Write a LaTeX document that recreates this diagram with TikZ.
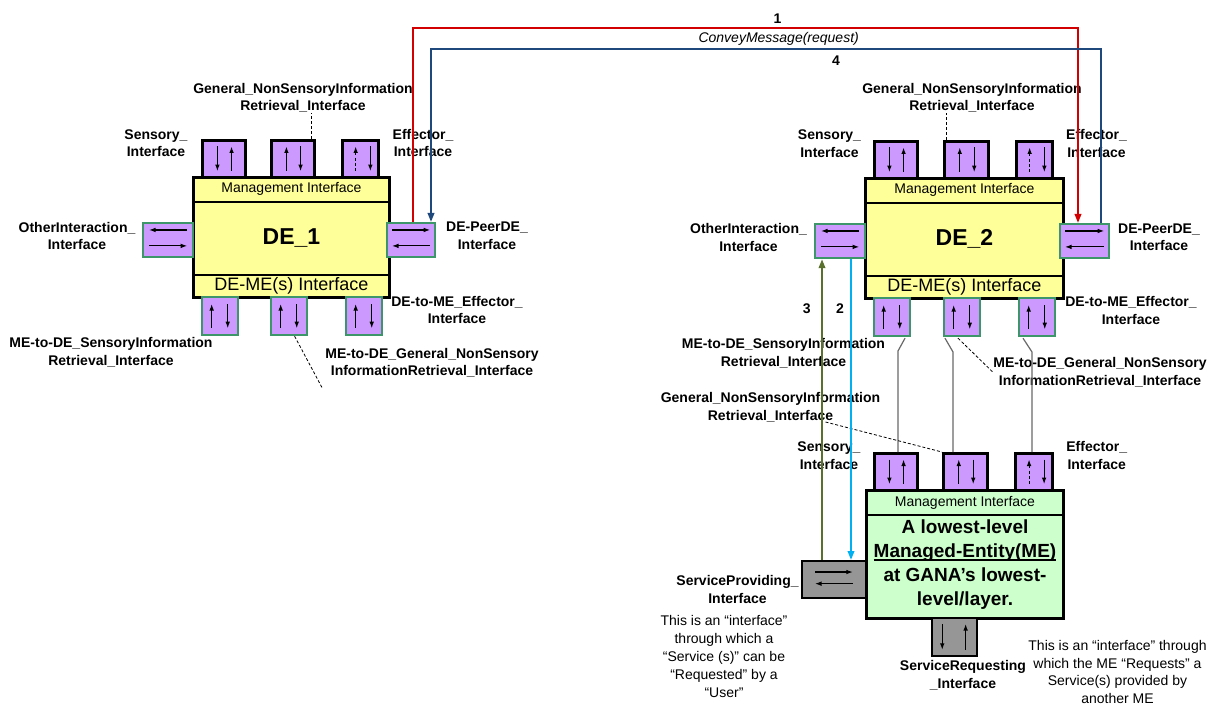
\documentclass[tikz,border=0pt]{standalone}
\usepackage{fontspec}
\setmainfont{Liberation Sans}
\usetikzlibrary{arrows.meta,calc}
\definecolor{purp}{RGB}{204,153,255}
\definecolor{yel}{RGB}{255,255,153}
\definecolor{lgreen}{RGB}{204,255,204}
\definecolor{grayc}{RGB}{150,150,150}
\definecolor{grn}{RGB}{60,150,105}
\definecolor{redc}{RGB}{210,0,0}
\definecolor{bluec}{RGB}{31,73,125}
\definecolor{olivec}{RGB}{90,112,45}
\definecolor{cyanc}{RGB}{0,176,240}
\definecolor{glinec}{RGB}{105,105,105}
\newcommand\lblfont{\fontsize{14bp}{17.5bp}\selectfont\bfseries}
\newcommand\notefont{\fontsize{14bp}{17.8bp}\selectfont}
\newcommand\mgmtfont{\fontsize{14bp}{17bp}\selectfont}
\newcommand\demefont{\fontsize{18bp}{21bp}\selectfont}
\newcommand\namefont{\fontsize{23bp}{26bp}\selectfont\bfseries}
\newcommand\mefont{\fontsize{19bp}{24bp}\selectfont\bfseries}
\newcommand\ulme[1]{\setbox0\hbox{#1}\rlap{\rule[-2.6bp]{\wd0}{1.4bp}}\box0}
\newcommand\vArr[4]{\draw[#3] ($(#1.north west)!#2!(#1.north east)+(0,#4)$) -- ($(#1.south west)!#2!(#1.south east)+(0,-#4)$);}
\newcommand\hArr[4]{\draw[#3] ($(#1.north west)!#2!(#1.south west)+(#4,0)$) -- ($(#1.north east)!#2!(#1.south east)+(-#4,0)$);}
\tikzset{
  topbox/.style={draw=black, line width=2.6bp, fill=purp, inner sep=0pt, anchor=north west},
  gbox/.style={draw=grn, line width=2.2bp, fill=purp, inner sep=0pt, anchor=north west},
  graybox/.style={draw=black, line width=1.8bp, fill=grayc, inner sep=0pt, anchor=north west},
  mainbox/.style={draw=black, line width=3bp, inner sep=0pt, anchor=north west},
  sepline/.style={line width=1.1bp, black},
  lbl/.style={font=\lblfont, align=center, inner sep=0pt},
  note/.style={font=\notefont, align=center, inner sep=0pt},
  tipend/.style={line width=1.1bp, -{Latex[length=6.5bp,width=4.6bp]}},
  tipstart/.style={line width=1.1bp, {Latex[length=6.5bp,width=4.6bp]}-},
  dashup/.style={tipstart, dash pattern=on 3bp off 2.2bp},
  bigtip/.style={-{Triangle[length=9bp,width=6.5bp]}},
  ptr/.style={black, line width=0.8bp, dash pattern=on 3bp off 2bp},
  gline/.style={glinec, line width=1.2bp},
}
\begin{document}
\begin{tikzpicture}[x=1bp,y=-1bp]
\useasboundingbox (0,0) rectangle (1208,705);
\fill[white] (0,0) rectangle (1208,705);

\coordinate (k1) at (898,351);
\coordinate (k2) at (953,352);
\coordinate (k3) at (1032,352);

% ================= DE_1 =================
\node[topbox, minimum width=43bp, minimum height=37bp] (d1top1) at (201,139) {};
\node[topbox, minimum width=43bp, minimum height=37bp] (d1top2) at (270,139) {};
\node[topbox, minimum width=36bp, minimum height=37bp] (d1top3) at (341,139) {};
\node[mainbox, fill=yel, minimum width=196bp, minimum height=120bp, font=\namefont] (de1) at (192,176) {DE\_1};
\draw[sepline] ($(de1.north west)+(0,26)$) -- ($(de1.north east)+(0,26)$);
\draw[sepline] ($(de1.south west)+(0,-24)$) -- ($(de1.south east)+(0,-24)$);
\node[font=\mgmtfont, inner sep=0pt] (d1mgmt) at ($(de1.north)+(0,13)$) {Management Interface};
\node[font=\demefont, inner sep=0pt] (d1deme) at ($(de1.south)+(0,-13)$) {DE-ME(s) Interface};
\node[gbox, minimum width=50bp, minimum height=34bp] (d1left) at (142,222) {};
\node[gbox, minimum width=48bp, minimum height=34bp] (d1right) at (386,222) {};
\node[gbox, minimum width=36bp, minimum height=38bp] (d1bot1) at (201,296) {};
\node[gbox, minimum width=36bp, minimum height=38bp] (d1bot2) at (270,296) {};
\node[gbox, minimum width=36bp, minimum height=38bp] (d1bot3) at (345,296) {};

\vArr{d1top1}{0.36}{tipend}{7.5}   \vArr{d1top1}{0.67}{tipstart}{7.5}
\vArr{d1top2}{0.36}{tipstart}{7.5} \vArr{d1top2}{0.67}{tipend}{7.5}
\vArr{d1top3}{0.38}{dashup}{7.5}   \vArr{d1top3}{0.76}{tipend}{7.5}
\hArr{d1left}{0.22}{tipstart}{7}   \hArr{d1left}{0.66}{tipend}{7}
\hArr{d1right}{0.22}{tipend}{6}    \hArr{d1right}{0.66}{tipstart}{6}
\vArr{d1bot1}{0.28}{tipstart}{8}   \vArr{d1bot1}{0.70}{tipend}{8}
\vArr{d1bot2}{0.28}{tipstart}{8}   \vArr{d1bot2}{0.70}{tipend}{8}
\vArr{d1bot3}{0.28}{tipstart}{8}   \vArr{d1bot3}{0.70}{tipend}{8}

\node[lbl] (d1gnsi) at (303,98) {General\_NonSensoryInformation\\Retrieval\_Interface};
\node[lbl] (d1sens) at (156,143) {Sensory\_\\Interface};
\node[lbl] (d1eff) at (423,143) {Effector\_\\Interface};
\node[lbl] (d1oth) at (77,236) {OtherInteraction\_\\Interface};
\node[lbl] (d1peer) at (487,236) {DE-PeerDE\_\\Interface};
\node[lbl] (d1demeeff) at (457,310) {DE-to-ME\_Effector\_\\Interface};
\node[lbl] (d1medesens) at (111,352.5) {ME-to-DE\_SensoryInformation\\Retrieval\_Interface};
\node[lbl] (d1medegen) at (432,363) {ME-to-DE\_General\_NonSensory\\InformationRetrieval\_Interface};

\coordinate (p1) at ($(d1top2.north east)+(-4,0)$);
\draw[ptr] (p1) -- (p1 |- d1gnsi.south);
\coordinate (p3) at (322.5,388.5);
\draw[ptr] ($(d1bot2.south west)+(24.6,0)$) -- (p3);

% ================= DE_2 =================
\node[topbox, minimum width=43bp, minimum height=37bp] (d2top1) at (873,140) {};
\node[topbox, minimum width=44bp, minimum height=37bp] (d2top2) at (943,140) {};
\node[topbox, minimum width=36bp, minimum height=37bp] (d2top3) at (1015,140) {};
\node[mainbox, fill=yel, minimum width=198bp, minimum height=120bp, font=\namefont] (de2) at (864,177) {DE\_2};
\draw[sepline] ($(de2.north west)+(0,26)$) -- ($(de2.north east)+(0,26)$);
\draw[sepline] ($(de2.south west)+(0,-24)$) -- ($(de2.south east)+(0,-24)$);
\node[font=\mgmtfont, inner sep=0pt] (d2mgmt) at ($(de2.north)+(0,13)$) {Management Interface};
\node[font=\demefont, inner sep=0pt] (d2deme) at ($(de2.south)+(0,-13)$) {DE-ME(s) Interface};
\node[gbox, minimum width=50bp, minimum height=34bp] (d2left) at (814,223) {};
\node[gbox, minimum width=49bp, minimum height=34bp] (d2right) at (1059,223) {};
\node[gbox, minimum width=36bp, minimum height=38bp] (d2bot1) at (873,297) {};
\node[gbox, minimum width=36bp, minimum height=38bp] (d2bot2) at (943,297) {};
\node[gbox, minimum width=36bp, minimum height=38bp] (d2bot3) at (1018,297) {};

\vArr{d2top1}{0.36}{tipend}{7.5}   \vArr{d2top1}{0.67}{tipstart}{7.5}
\vArr{d2top2}{0.36}{tipstart}{7.5} \vArr{d2top2}{0.67}{tipend}{7.5}
\vArr{d2top3}{0.38}{dashup}{7.5}   \vArr{d2top3}{0.76}{tipend}{7.5}
\hArr{d2left}{0.22}{tipstart}{7}   \hArr{d2left}{0.66}{tipend}{7}
\hArr{d2right}{0.22}{tipend}{6}    \hArr{d2right}{0.66}{tipstart}{6}
\vArr{d2bot1}{0.28}{tipstart}{8}   \vArr{d2bot1}{0.70}{tipend}{8}
\vArr{d2bot2}{0.28}{tipstart}{8}   \vArr{d2bot2}{0.70}{tipend}{8}
\vArr{d2bot3}{0.28}{tipstart}{8}   \vArr{d2bot3}{0.70}{tipend}{8}

\node[lbl] (d2gnsi) at (972,98) {General\_NonSensoryInformation\\Retrieval\_Interface};
\node[lbl] (d2sens) at (829.5,143.5) {Sensory\_\\Interface};
\node[lbl] (d2eff) at (1096.5,143.5) {Effector\_\\Interface};
\node[lbl] (d2oth) at (748.5,237.5) {OtherInteraction\_\\Interface};
\node[lbl] (d2peer) at (1159,237.5) {DE-PeerDE\_\\Interface};
\node[lbl] (d2demeeff) at (1131,310.5) {DE-to-ME\_Effector\_\\Interface};
\node[lbl] (d2medesens) at (783.5,353.5) {ME-to-DE\_SensoryInformation\\Retrieval\_Interface};
\node[lbl] (d2medegen) at (1100,372.5) {ME-to-DE\_General\_NonSensory\\InformationRetrieval\_Interface};

\coordinate (p2) at ($(d2top2.north west)+(3,0)$);
\draw[ptr] (p2) -- (p2 |- d2gnsi.south);

% ================= ME =================
\node[topbox, minimum width=43bp, minimum height=37bp] (metop1) at (873,452) {};
\node[topbox, minimum width=44bp, minimum height=37bp] (metop2) at (942,452) {};
\node[topbox, minimum width=37bp, minimum height=37bp] (metop3) at (1014,452) {};
\draw[gline] ($(d2bot1.south west)+(32,1)$) -- (k1) -- (k1 |- metop1.north);
\draw[gline] ($(d2bot2.south west)+(2,1)$) -- (k2) -- (k2 |- metop2.north);
\draw[gline] ($(d2bot3.south west)+(5,1)$) -- (k3) -- (k3 |- metop3.north);
\draw[ptr] ($(d2bot2.south west)+(15,1)$) -- (d2medegen.west);

\node[mainbox, fill=lgreen, minimum width=197bp, minimum height=128bp] (me) at (865,489) {};
\draw[sepline] ($(me.north west)+(0,26)$) -- ($(me.north east)+(0,26)$);
\node[font=\mgmtfont, inner sep=0pt] (memgmt) at ($(me.north)+(0,13.5)$) {Management Interface};
\node[font=\mefont, align=center, inner sep=0pt] (metext) at ($(me.north)+(0,76)$) {A lowest-level\\\ulme{Managed-Entity(ME)}\\at GANA’s lowest-\\level/layer.};
\node[graybox, minimum width=64bp, minimum height=37bp] (mesp) at (801,560) {};
\node[graybox, minimum width=45bp, minimum height=38bp] (mesr) at (931,617) {};

\vArr{metop1}{0.36}{tipend}{7.5}   \vArr{metop1}{0.67}{tipstart}{7.5}
\vArr{metop2}{0.36}{tipstart}{7.5} \vArr{metop2}{0.67}{tipend}{7.5}
\vArr{metop3}{0.38}{dashup}{7.5}   \vArr{metop3}{0.76}{tipend}{7.5}
\hArr{mesp}{0.31}{tipend}{14}      \hArr{mesp}{0.61}{tipstart}{14}
\vArr{mesr}{0.24}{tipend}{7}       \vArr{mesr}{0.74}{tipstart}{7}

\node[lbl] (megnsi) at (770.5,407.5) {General\_NonSensoryInformation\\Retrieval\_Interface};
\node[lbl] (mesens) at (829,455.5) {Sensory\_\\Interface};
\node[lbl] (meeff) at (1096.7,455.5) {Effector\_\\Interface};
\coordinate (p4) at (825.5,422);
\draw[ptr] (p4) -- (metop2.north west);

\node[lbl] (mesplbl) at (737.5,589.5) {ServiceProviding\_\\Interface};
\node[note] (mespnote) at (724,656.5) {This is an “interface”\\through which a\\“Service (s)” can be\\“Requested” by a\\“User”};
\node[lbl] (mesrlbl) at (963,675.5) {ServiceRequesting\\\_Interface};
\node[note] (mesrnote) at (1117.5,672) {This is an “interface” through\\which the ME “Requests” a\\Service(s) provided by\\another ME};

% ================= message connectors =================
\coordinate (rA) at (412.5,27.7);
\coordinate (rB) at (1078,27.7);
\draw[redc, line width=2bp, bigtip] (d1right.north -| rA) -- (rA) -- (rB) -- (d2right.north -| rB);
\coordinate (bA) at (1100.6,49);
\coordinate (bB) at (431,49);
\draw[bluec, line width=2bp, bigtip] (d2right.north -| bA) -- (bA) -- (bB) -- (d1right.north -| bB);
\node[font=\lblfont, inner sep=0pt] (n1) at (777.5,18.5) {1};
\node[font=\notefont\itshape, inner sep=0pt] (conv) at (778.7,38.5) {ConveyMessage(request)};
\node[font=\lblfont, inner sep=0pt] (n4) at (836,61) {4};

\coordinate (gx) at (822,0);
\coordinate (cx) at (851,0);
\draw[olivec, line width=2bp, bigtip] (mesp.north -| gx) -- (d2left.south -| gx);
\draw[cyanc, line width=2bp, bigtip] (d2left.south -| cx) -- (mesp.north -| cx);
\node[font=\lblfont, inner sep=0pt] (n3) at (806.7,308.5) {3};
\node[font=\lblfont, inner sep=0pt] (n2) at (840,308.5) {2};
\end{tikzpicture}
\end{document}
